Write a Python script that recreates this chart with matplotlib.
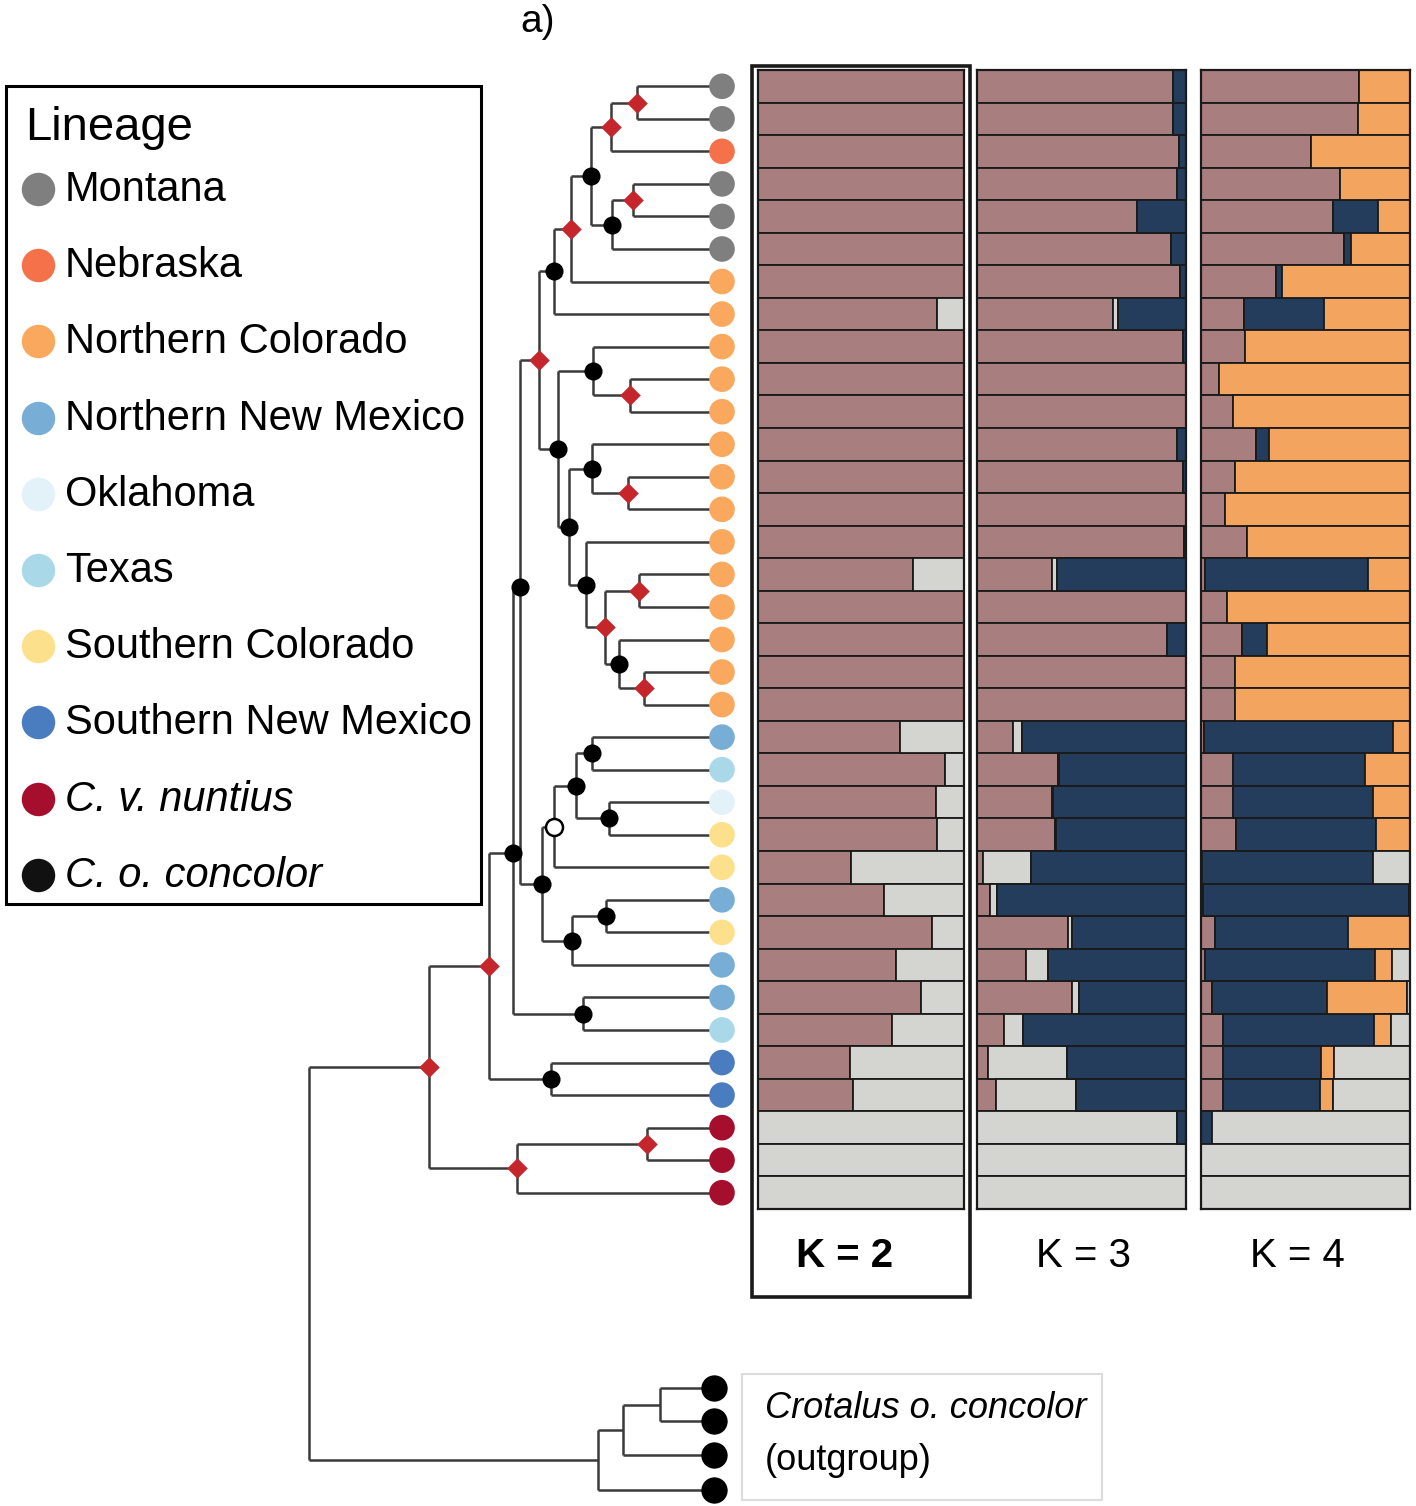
import matplotlib
matplotlib.use('Agg')
import matplotlib.pyplot as plt
from matplotlib.patches import Rectangle

plt.rcParams['font.family'] = ['Liberation Sans', 'DejaVu Sans']

W, H = 1416, 1506

# lineages and colours (legend order)
lineages = ['Montana', 'Nebraska', 'Northern Colorado', 'Northern New Mexico',
            'Oklahoma', 'Texas', 'Southern Colorado', 'Southern New Mexico',
            'C. v. nuntius', 'C. o. concolor']
lineage_colors = ['#7f7f7f', '#f4714a', '#f9a85d', '#78aed6', '#e3f1f8',
                  '#a9d9e9', '#fde08b', '#4a7cc0', '#a50f2d', '#111111']

# lineage of each ingroup sample, top to bottom
tip_lineage = (['Montana', 'Montana', 'Nebraska', 'Montana', 'Montana', 'Montana']
               + ['Northern Colorado'] * 14
               + ['Northern New Mexico', 'Texas', 'Oklahoma', 'Southern Colorado',
                  'Southern Colorado', 'Northern New Mexico', 'Southern Colorado',
                  'Northern New Mexico', 'Northern New Mexico', 'Texas',
                  'Southern New Mexico', 'Southern New Mexico',
                  'C. v. nuntius', 'C. v. nuntius', 'C. v. nuntius'])

# admixture proportions per sample
k2_mauve = [1, 1, 1, 1, 1, 1, 1, 0.87, 1, 1, 1, 1, 1, 1, 1, 0.75, 1, 1, 1, 1,
            0.69, 0.91, 0.865, 0.87, 0.45, 0.61, 0.845, 0.67, 0.79, 0.65, 0.445, 0.46,
            0, 0, 0]

k3_mauve = [0.94, 0.94, 0.965, 0.955, 0.765, 0.929, 0.969, 0.653, 0.986, 1, 1, 0.959,
            0.986, 1, 0.99, 0.357, 1, 0.908, 1, 1,
            0.173, 0.388, 0.357, 0.373, 0.027, 0.061, 0.435, 0.235, 0.453, 0.127,
            0.051, 0.092, 0, 0, 0]
k3_gray = [0, 0, 0, 0, 0, 0, 0, 0.02, 0, 0, 0, 0, 0, 0, 0, 0.025, 0, 0, 0, 0,
           0.04, 0.005, 0.008, 0.006, 0.229, 0.035, 0.02, 0.106, 0.033, 0.094,
           0.382, 0.384, 0.959, 1, 1]

k4_mauve = [0.754, 0.75, 0.528, 0.663, 0.632, 0.682, 0.359, 0.207, 0.211, 0.084,
            0.154, 0.263, 0.162, 0.117, 0.222, 0.02, 0.123, 0.195, 0.164, 0.164,
            0.014, 0.154, 0.154, 0.168, 0.006, 0.01, 0.066, 0.02, 0.055, 0.103,
            0.103, 0.103, 0, 0, 0]
k4_navy = [0, 0, 0, 0, 0.216, 0.037, 0.027, 0.382, 0, 0, 0, 0.06, 0, 0, 0, 0.78, 0,
           0.119, 0, 0, 0.904, 0.63, 0.667, 0.667, 0.819, 0.986, 0.637, 0.811, 0.55,
           0.725, 0.472, 0.468, 0.055, 0, 0]
k4_orange = [0.246, 0.25, 0.472, 0.337, 0.152, 0.281, 0.614, 0.411, 0.789, 0.916,
             0.846, 0.677, 0.838, 0.883, 0.778, 0.2, 0.877, 0.686, 0.836, 0.836,
             0.082, 0.216, 0.179, 0.165, 0, 0.004, 0.297, 0.082, 0.38, 0.08,
             0.062, 0.062, 0, 0, 0]

MAUVE, GRAY, NAVY, ORANGE = '#a97e7e', '#d4d4d0', '#243d5c', '#f3a45f'

# tree: node -> (depth x, children, support marker). ints = ingroup tips, 'og*' = outgroup tips
tree = {
    'A': (637, [0, 1], 'd'), 'B': (611, ['A', 2], 'd'),
    'C': (633, [3, 4], 'd'), 'D': (612, ['C', 5], 'c'),
    'E': (591, ['B', 'D'], 'c'), 'F': (571, ['E', 6], 'd'),
    'G': (554, ['F', 7], 'c'),
    'K': (630, [9, 10], 'd'), 'J': (593, [8, 'K'], 'c'),
    'M2': (628, [12, 13], 'd'), 'M': (592, [11, 'M2'], 'c'),
    'P': (639, [15, 16], 'd'), 'R': (644, [18, 19], 'd'),
    'Q': (619, [17, 'R'], 'c'), 'O': (605, ['P', 'Q'], 'd'),
    'N': (586, [14, 'O'], 'c'), 'L': (569, ['M', 'N'], 'c'),
    'I': (558, ['J', 'L'], 'c'), 'H': (539, ['G', 'I'], 'd'),
    'X1': (592, [20, 21], 'c'), 'X2': (609, [22, 23], 'c'),
    'X': (576, ['X1', 'X2'], 'c'), 'Y': (554, ['X', 24], 'o'),
    'Z1': (606, [25, 26], 'c'), 'Z': (572, ['Z1', 27], 'c'),
    'Wn': (542, ['Y', 'Z'], 'c'), 'V': (583, [28, 29], 'c'),
    'S': (520, ['H', 'Wn'], 'c'), 'U': (513, ['S', 'V'], 'c'),
    'SNM': (551, [30, 31], 'c'), 'T': (489, ['U', 'SNM'], 'd'),
    'NU1': (647, [32, 33], 'd'), 'NU': (517, ['NU1', 34], 'd'),
    'IN': (429, ['T', 'NU'], 'd'),
    'OG1': (660, ['og0', 'og1'], None), 'OG2': (623, ['OG1', 'og2'], None),
    'OG3': (598, ['OG2', 'og3'], None),
    'ROOT': (309, ['IN', 'OG3'], None),
}
node_pos = {'S': 587, 'U': 853}  # hand-placed node heights in the original

ROW_TOP, ROW_BOT = 70, 1209
n_rows = len(tip_lineage)
ROW_H = (ROW_BOT - ROW_TOP) / n_rows
TIP_X, OG_X = 722, 714
og_y = {'og0': 1388, 'og1': 1421, 'og2': 1455, 'og3': 1490}


def ny(n):
    if isinstance(n, int):
        return ROW_TOP + (n + 0.5) * ROW_H
    if n in og_y:
        return og_y[n]
    if n in node_pos:
        return node_pos[n]
    ch = tree[n][1]
    return (ny(ch[0]) + ny(ch[-1])) / 2


def nx(n):
    if isinstance(n, int):
        return TIP_X
    if n in og_y:
        return OG_X
    return tree[n][0]


fig = plt.figure(figsize=(W / 100, H / 100), dpi=100)
ax = fig.add_axes([0, 0, 1, 1])
ax.set_xlim(0, W)
ax.set_ylim(H, 0)
ax.axis('off')

lc = '#3a3a3a'
for name, (x, ch, mk) in tree.items():
    ys = [ny(c) for c in ch]
    ax.plot([x, x], [min(ys), max(ys)], color=lc, lw=1.8, zorder=1, solid_capstyle='butt')
    for c, cy in zip(ch, ys):
        ax.plot([x, nx(c)], [cy, cy], color=lc, lw=1.8, zorder=1, solid_capstyle='butt')
    y = ny(name)
    if mk == 'd':
        ax.scatter(x, y, marker='D', s=110, color='#c4262b', zorder=4, linewidths=0)
    elif mk == 'c':
        ax.scatter(x, y, marker='o', s=170, color='black', zorder=4, linewidths=0)
    elif mk == 'o':
        ax.scatter(x, y, marker='o', s=150, facecolor='white', edgecolor='black',
                   linewidths=1.8, zorder=4)

col_of = dict(zip(lineages, lineage_colors))
tip_cols = [col_of[l] for l in tip_lineage]
ax.scatter([TIP_X] * n_rows, [ny(i) for i in range(n_rows)], s=340, c=tip_cols,
           linewidths=0, zorder=3)
ax.scatter([OG_X] * 4, [og_y[k] for k in og_y], s=360, c='black', linewidths=0,
           zorder=3, marker='o')

# legend
ax.add_patch(Rectangle((6, 86), 475, 818, fill=False, edgecolor='black', lw=2.2, zorder=2))
ax.text(25, 128, 'Lineage', fontsize=34, va='center', ha='left')
for i, (lab, col) in enumerate(zip(lineages, lineage_colors)):
    yy = 189 + i * 76.2
    ax.scatter(38, yy, s=580, color=col, linewidths=0, zorder=3)
    style = 'italic' if lab.startswith('C.') else 'normal'
    ax.text(65, yy + 1, lab, fontsize=30, va='center', ha='left', style=style)

ax.text(538, 22, 'a)', fontsize=28, ha='center', va='center')

# outgroup label
ax.add_patch(Rectangle((742, 1374), 360, 126, fill=False, edgecolor='#dcdcdc', lw=1.5))
ax.text(765, 1408, 'Crotalus o. concolor', fontsize=26, style='italic', va='center')
ax.text(765, 1461, '(outgroup)', fontsize=26, va='center')

# K = 2 frame
ax.add_patch(Rectangle((752, 66), 218, 1231, fill=False, edgecolor='#1a1a1a', lw=2.6, zorder=2))

# admixture panels
k2_gray = [1 - m for m in k2_mauve]
k3_navy = [max(0, 1 - m - g) for m, g in zip(k3_mauve, k3_gray)]
k4_gray = [max(0, 1 - a - b - c) for a, b, c in zip(k4_mauve, k4_navy, k4_orange)]

panels = [
    (758, 206, [(k2_mauve, MAUVE), (k2_gray, GRAY)], 'K = 2', 'bold', 845),
    (977, 209, [(k3_mauve, MAUVE), (k3_gray, GRAY), (k3_navy, NAVY)], 'K = 3', 'normal', 1083),
    (1201, 209, [(k4_mauve, MAUVE), (k4_navy, NAVY), (k4_orange, ORANGE), (k4_gray, GRAY)],
     'K = 4', 'normal', 1297),
]
for x0, w, comps, lab, wt, lx in panels:
    bax = fig.add_axes([x0 / W, 1 - ROW_BOT / H, w / W, (ROW_BOT - ROW_TOP) / H])
    bax.set_xlim(0, 1)
    bax.set_ylim(n_rows, 0)
    bax.set_xticks([])
    bax.set_yticks([])
    for sp in bax.spines.values():
        sp.set_linewidth(1.6)
        sp.set_color('#1a1a1a')
    left = [0.0] * n_rows
    for vals, col in comps:
        for i, v in enumerate(vals):
            if v > 0.003:
                bax.barh(i + 0.5, v, left=left[i], height=1, color=col,
                         edgecolor='#1a1a1a', linewidth=1.3)
            left[i] += v
    ax.text(lx, 1256, lab, fontsize=29, fontweight=wt, ha='center', va='center')

fig.savefig('out.png', dpi=100)
